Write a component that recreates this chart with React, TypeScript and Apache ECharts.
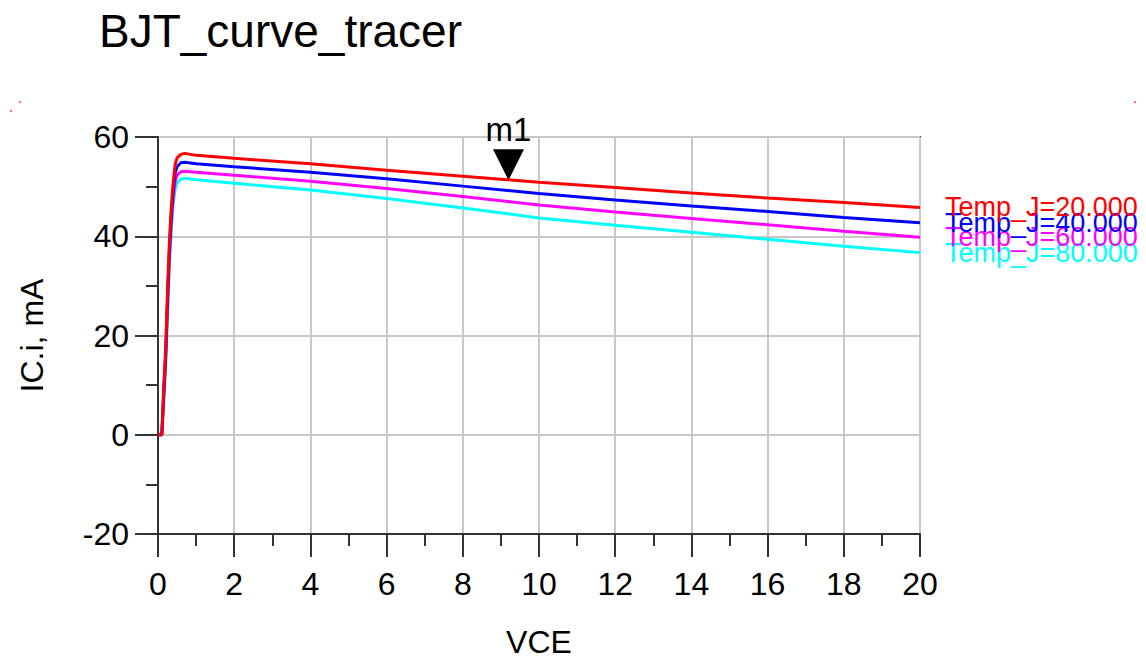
import React, { useEffect, useRef } from "react";
import * as echarts from "echarts";

const vce = [0, 0.1, 0.15, 0.2, 0.25, 0.3, 0.35, 0.4, 0.45, 0.5, 0.6, 0.7, 1, 2, 4, 6, 8, 10, 12, 14, 16, 18, 20];
const ic20 = [0, 0, 9.5, 17, 29, 39, 46, 51, 54.5, 55.8, 56.5, 56.7, 56.3, 55.7, 54.6, 53.3, 52.1, 50.9, 49.8, 48.7, 47.7, 46.8, 45.8];
const ic40 = [0, 0, 8.5, 16, 27.5, 37.5, 44.5, 49.5, 52.8, 54.0, 54.8, 54.9, 54.6, 54.0, 52.9, 51.6, 50.1, 48.6, 47.3, 46.1, 45.0, 43.8, 42.7];
const ic60 = [0, 0, 7.5, 15, 26, 36, 43, 48, 51, 52.3, 53.0, 53.1, 52.9, 52.3, 51.1, 49.6, 48.0, 46.3, 44.9, 43.6, 42.3, 41.0, 39.8];
const ic80 = [0, 0, 6, 13.5, 24, 34, 41.5, 46.5, 49.5, 50.7, 51.5, 51.7, 51.4, 50.7, 49.3, 47.6, 45.7, 43.7, 42.2, 40.8, 39.4, 38.0, 36.7];
const seriesNames = ["Temp_J=20.000", "Temp_J=40.000", "Temp_J=60.000", "Temp_J=80.000"];
const seriesColors = ["#ff0000", "#0000ff", "#ff00ff", "#00ffff"];
const seriesValues = [ic20, ic40, ic60, ic80];
const marker = { name: "m1", vce: 9.2, ic: 51.3 };

const FONT = "'Liberation Sans', Arial, sans-serif";

export default function App() {
  const ref = useRef<HTMLDivElement>(null);
  useEffect(() => {
    if (!ref.current) return;
    const chart = echarts.init(ref.current, undefined, { renderer: "svg" });
    const series: any[] = seriesValues.map((vals, i) => ({
      type: "line",
      name: seriesNames[i],
      data: vce.map((x, j) => [x, vals[j]]),
      showSymbol: false,
      symbol: "none",
      lineStyle: { color: seriesColors[i], width: 3 },
      itemStyle: { color: seriesColors[i] },
      z: 10 - i,
      endLabel: {
        show: true,
        formatter: seriesNames[i],
        color: seriesColors[i],
        fontSize: 27,
        fontFamily: FONT,
        distance: 25,
      },
      markPoint:
        i === 0
          ? {
              symbol: "triangle",
              symbolSize: [31, 31],
              symbolRotate: 180,
              symbolOffset: [0, "-50%"],
              itemStyle: { color: "#000" },
              label: {
                show: true,
                position: "top",
                distance: 3,
                formatter: marker.name,
                color: "#000",
                fontSize: 33,
                fontFamily: FONT,
              },
              data: [{ coord: [marker.vce, marker.ic] }],
            }
          : undefined,
    }));
    chart.setOption({
      animation: false,
      backgroundColor: "#fff",
      title: {
        text: "BJT_curve_tracer",
        left: 91,
        top: 0,
        padding: 0,
        textStyle: { fontSize: 46, fontWeight: "normal", color: "#000", fontFamily: FONT },
      },
      graphic: [
        { type: "circle", shape: { cx: 12, cy: 94, r: 1.2 }, style: { fill: "#ff7070" } },
        { type: "circle", shape: { cx: 3, cy: 103, r: 1.2 }, style: { fill: "#ff7070" } },
        { type: "circle", shape: { cx: 1127, cy: 94, r: 1.2 }, style: { fill: "#ff7070" } },
        { type: "circle", shape: { cx: 1135, cy: 103, r: 1.2 }, style: { fill: "#ff7070" } },
      ],
      grid: {
        left: 147,
        right: 218,
        top: 129,
        bottom: 114,
        show: true,
        borderColor: "#333",
        borderWidth: 2,
        containLabel: false,
      },
      xAxis: {
        type: "value",
        min: 0,
        max: 20,
        interval: 2,
        name: "VCE",
        nameLocation: "middle",
        nameGap: 92,
        nameTextStyle: { fontSize: 32, color: "#000", fontFamily: FONT },
        axisLine: { show: true, onZero: false, lineStyle: { color: "#333", width: 2 } },
        axisTick: { show: true, inside: false, length: 23, lineStyle: { color: "#333", width: 2 } },
        minorTick: { show: true, splitNumber: 2, length: 12, lineStyle: { color: "#333", width: 2 } },
        axisLabel: { margin: 34, fontSize: 32, color: "#000", fontFamily: FONT },
        splitLine: { show: true, lineStyle: { color: "#c8c8c8", width: 2 } },
      },
      yAxis: {
        type: "value",
        min: -20,
        max: 60,
        interval: 20,
        name: "IC.i, mA",
        nameLocation: "middle",
        nameGap: 110,
        nameTextStyle: { fontSize: 32, color: "#000", fontFamily: FONT },
        axisLine: { show: true, onZero: false, lineStyle: { color: "#333", width: 2 } },
        axisTick: { show: true, inside: false, length: 23, lineStyle: { color: "#333", width: 2 } },
        minorTick: { show: true, splitNumber: 2, length: 12, lineStyle: { color: "#333", width: 2 } },
        axisLabel: { margin: 29, fontSize: 32, color: "#000", fontFamily: FONT },
        splitLine: { show: true, lineStyle: { color: "#c8c8c8", width: 2 } },
      },
      series,
    });
    return () => chart.dispose();
  }, []);
  return <div ref={ref} style={{ width: 1130, height: 655 }} />;
}
